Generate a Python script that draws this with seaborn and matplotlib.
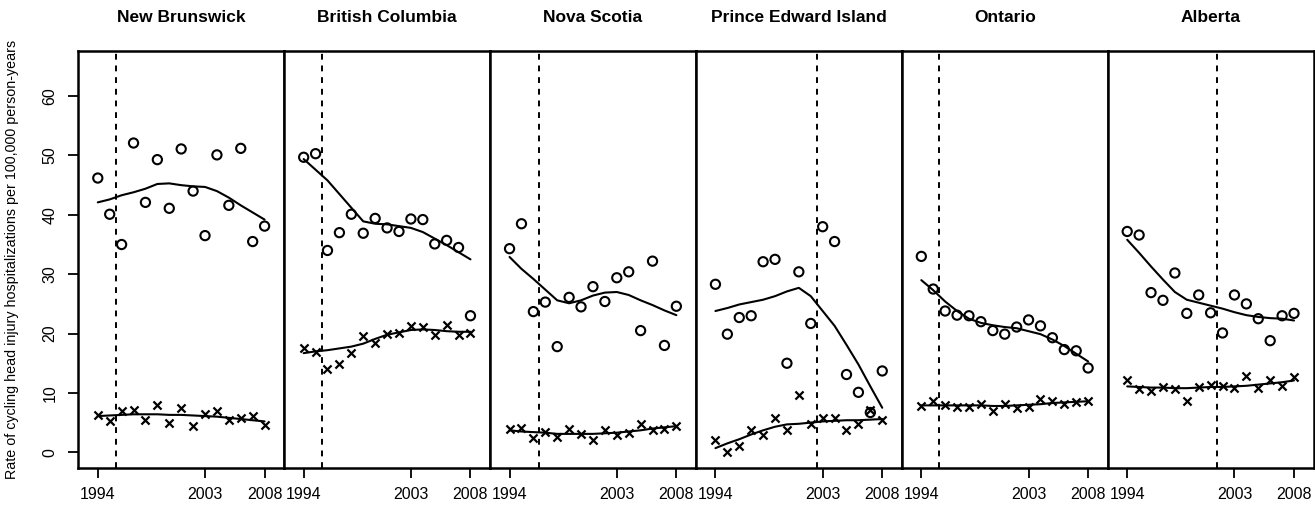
import numpy as np
import pandas as pd
import matplotlib
matplotlib.use("Agg")
import matplotlib.pyplot as plt
import seaborn as sns

years = list(range(1994, 2009))
provinces = ["New Brunswick", "British Columbia", "Nova Scotia",
             "Prince Edward Island", "Ontario", "Alberta"]
law_year = [1995.5, 1995.5, 1996.5, 2002.5, 1995.5, 2001.5]

# circles (observed rates, group 1)
nb_o = [46.2, 40.1, 35.0, 52.1, 42.1, 49.3, 41.1, 51.1, 44.0, 36.5, 50.1, 41.6, 51.2, 35.5, 38.1]
bc_o = [49.7, 50.3, 34.0, 37.0, 40.1, 36.9, 39.4, 37.8, 37.2, 39.3, 39.2, 35.1, 35.7, 34.5, 23.0]
ns_o = [34.3, 38.5, 23.7, 25.3, 17.8, 26.1, 24.5, 27.9, 25.4, 29.4, 30.4, 20.5, 32.2, 18.0, 24.6]
pe_o = [28.3, 19.9, 22.7, 23.0, 32.1, 32.5, 15.0, 30.4, 21.7, 38.0, 35.5, 13.1, 10.1, 6.7, 13.7]
on_o = [33.0, 27.5, 23.8, 23.1, 23.0, 22.0, 20.5, 19.9, 21.1, 22.3, 21.3, 19.3, 17.3, 17.1, 14.2]
ab_o = [37.2, 36.6, 26.9, 25.6, 30.2, 23.4, 26.5, 23.5, 20.1, 26.5, 25.0, 22.5, 18.8, 23.0, 23.4]

# smoothed curves for circles
nb_of = [42.1, 42.6, 43.3, 43.8, 44.4, 45.2, 45.3, 45.0, 44.8, 44.7, 44.0, 42.9, 41.6, 40.4, 39.2]
bc_of = [49.4, 47.6, 45.8, 43.5, 41.2, 38.9, 38.5, 38.4, 38.1, 37.8, 37.1, 36.0, 34.9, 33.7, 32.5]
ns_of = [32.9, 30.9, 29.2, 27.4, 25.6, 25.1, 25.6, 26.4, 26.9, 27.0, 26.5, 25.6, 24.8, 23.9, 23.1]
pe_of = [23.8, 24.3, 24.9, 25.3, 25.7, 26.3, 27.1, 27.7, 26.3, 23.8, 21.3, 18.1, 14.8, 11.1, 7.5]
on_of = [29.0, 27.3, 25.4, 23.8, 22.5, 21.8, 21.4, 21.1, 20.9, 20.4, 19.9, 19.0, 17.9, 16.6, 15.3]
ab_of = [35.8, 33.6, 31.3, 29.1, 27.0, 25.7, 25.2, 24.7, 24.2, 23.6, 23.1, 22.8, 22.6, 22.5, 22.2]

# crosses (observed rates, group 2)
nb_x = [6.2, 5.2, 6.9, 7.1, 5.4, 7.9, 5.0, 7.5, 4.5, 6.4, 6.9, 5.4, 5.7, 6.1, 4.6]
bc_x = [17.5, 16.9, 14.0, 14.8, 16.7, 19.6, 18.4, 19.9, 20.1, 21.2, 21.1, 19.8, 21.5, 19.7, 20.1]
ns_x = [3.9, 4.1, 2.4, 3.4, 2.6, 3.9, 3.1, 2.1, 3.7, 2.9, 3.2, 4.7, 3.7, 3.9, 4.5]
pe_x = [2.1, 0.0, 1.1, 3.8, 2.9, 5.8, 3.8, 9.7, 4.8, 5.8, 5.8, 3.8, 4.8, 7.1, 5.5]
on_x = [7.8, 8.6, 7.9, 7.6, 7.6, 8.1, 6.9, 8.2, 7.4, 7.6, 8.9, 8.6, 8.2, 8.4, 8.6]
ab_x = [12.2, 10.7, 10.3, 11.0, 10.7, 8.7, 11.0, 11.3, 11.2, 10.8, 12.8, 10.8, 12.1, 11.1, 12.7]

# smoothed curves for crosses
nb_xf = [6.1, 6.2, 6.3, 6.4, 6.4, 6.4, 6.3, 6.3, 6.2, 6.1, 6.0, 5.8, 5.6, 5.4, 5.2]
bc_xf = [16.7, 17.0, 17.2, 17.5, 17.8, 18.3, 19.1, 19.8, 20.2, 20.6, 20.7, 20.6, 20.4, 20.3, 20.3]
ns_xf = [3.7, 3.5, 3.4, 3.3, 3.1, 3.1, 3.1, 3.1, 3.2, 3.3, 3.5, 3.7, 4.0, 4.2, 4.4]
pe_xf = [0.7, 1.5, 2.2, 3.0, 3.7, 4.3, 4.7, 4.8, 5.0, 5.2, 5.3, 5.4, 5.4, 5.5, 5.6]
on_xf = [7.9, 7.9, 7.9, 7.9, 7.9, 7.9, 7.8, 7.8, 7.9, 8.0, 8.1, 8.3, 8.4, 8.5, 8.6]
ab_xf = [11.1, 11.0, 10.9, 10.9, 10.8, 10.8, 10.9, 11.0, 11.0, 11.1, 11.2, 11.4, 11.6, 11.8, 12.1]

obs_o = [nb_o, bc_o, ns_o, pe_o, on_o, ab_o]
fit_o = [nb_of, bc_of, ns_of, pe_of, on_of, ab_of]
obs_x = [nb_x, bc_x, ns_x, pe_x, on_x, ab_x]
fit_x = [nb_xf, bc_xf, ns_xf, pe_xf, on_xf, ab_xf]

xticks = [1994, 2003, 2008]
yticks = [0, 10, 20, 30, 40, 50, 60]
ylabel = "Rate of cycling head injury hospitalizations per 100,000 person-years"

sns.set_theme(style="white")
plt.rcParams['font.family'] = ['Liberation Sans', 'DejaVu Sans']
plt.rcParams['text.color'] = 'black'
plt.rcParams['axes.labelcolor'] = 'black'
plt.rcParams['xtick.color'] = 'black'
plt.rcParams['ytick.color'] = 'black'

fig, axes = plt.subplots(1, 6, figsize=(13.15, 5.08), dpi=100, sharey=True)
fig.subplots_adjust(left=0.0595, right=0.9989, top=0.8996, bottom=0.0793, wspace=0)

for i, ax in enumerate(axes):
    df = pd.DataFrame({"year": years, "o": obs_o[i], "of": fit_o[i],
                       "x": obs_x[i], "xf": fit_x[i]})
    sns.lineplot(data=df, x="year", y="of", ax=ax, color="black", lw=1.5, zorder=3)
    sns.lineplot(data=df, x="year", y="xf", ax=ax, color="black", lw=1.5, zorder=3)
    sns.scatterplot(data=df, x="year", y="o", ax=ax, marker="o", s=44,
                    facecolor="none", edgecolor="black", linewidth=1.5, zorder=4)
    sns.scatterplot(data=df, x="year", y="x", ax=ax, marker="x", s=34,
                    color="black", linewidth=1.6, zorder=4)
    ax.axvline(law_year[i], color="black", lw=1.4, ls=(0, (3, 3)), zorder=2)
    ax.set_xlim(1992.36, 2009.64)
    ax.set_ylim(-2.6, 67.6)
    ax.set_xticks(xticks)
    ax.set_xticklabels([str(t) for t in xticks], fontsize=11.5)
    ax.set_xlabel("")
    ax.set_ylabel("")
    ax.set_title(provinces[i], fontsize=12.5, fontweight="bold", pad=21, color="black")
    for s in ax.spines.values():
        s.set_color("black")
        s.set_linewidth(1.8)
    ax.tick_params(axis="x", direction="out", length=7, width=1.3, color="black",
                   pad=7, bottom=True, labelsize=11.5, labelcolor="black")
    if i == 0:
        ax.set_yticks(yticks)
        ax.set_yticklabels([str(t) for t in yticks], fontsize=11.5, rotation=90, va="center")
        ax.tick_params(axis="y", direction="out", length=7, width=1.3, color="black",
                       pad=8, left=True, labelsize=11.5, labelcolor="black")
        ax.set_ylabel(ylabel, fontsize=10.3, labelpad=17, color="black")
    else:
        ax.tick_params(axis="y", left=False, labelleft=False)
    ax.grid(False)

fig.savefig("out.png", dpi=100)
